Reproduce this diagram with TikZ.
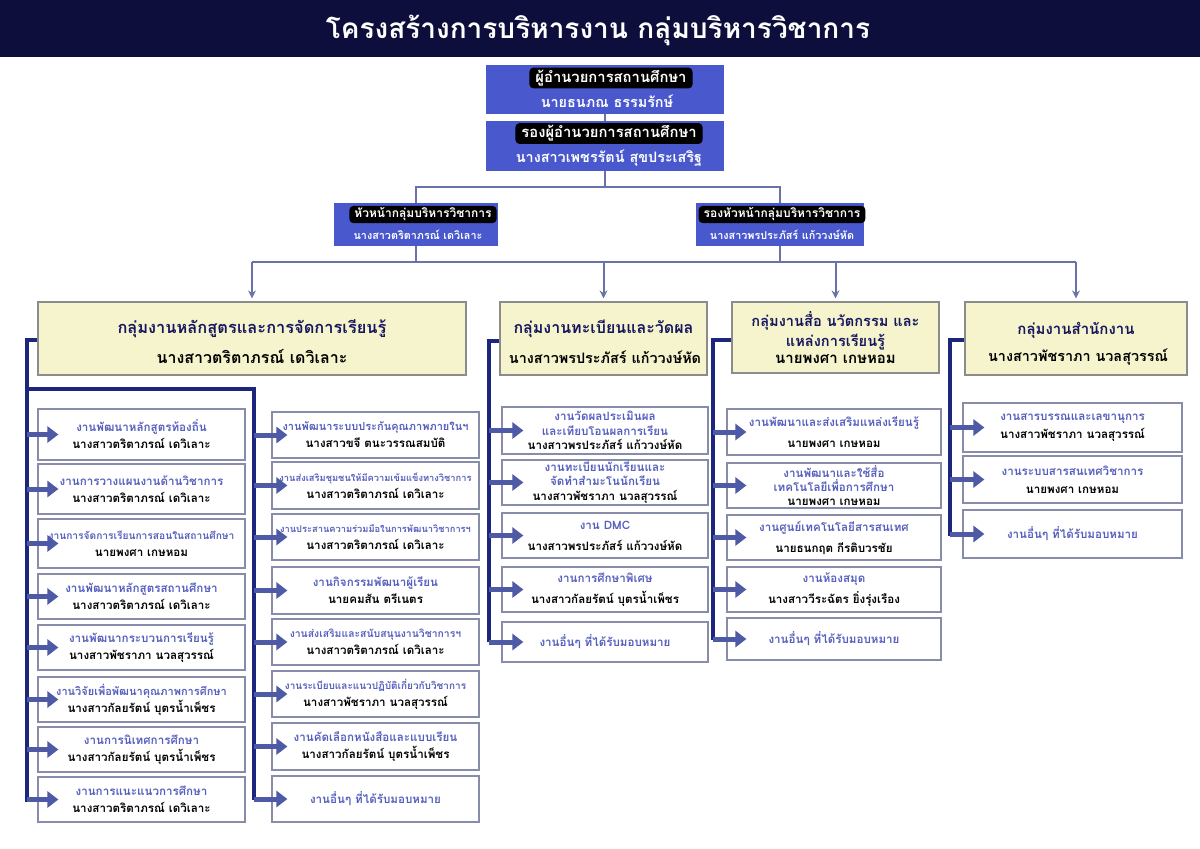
\documentclass[tikz,border=0pt]{standalone}
\usepackage{fontspec}
\setmainfont[Script=Thai]{Loma}
\usetikzlibrary{arrows.meta}
\definecolor{navy}{RGB}{14,14,60}
\definecolor{bossblue}{RGB}{74,88,205}
\definecolor{grpfill}{RGB}{246,244,204}
\definecolor{grpline}{RGB}{140,140,140}
\definecolor{grptext}{RGB}{22,22,95}
\definecolor{subline}{RGB}{135,140,170}
\definecolor{subtext}{RGB}{85,95,190}
\definecolor{busblue}{RGB}{28,38,125}
\definecolor{arrowblue}{RGB}{78,90,165}
\definecolor{connline}{RGB}{105,115,170}
\newcommand\subt[1]{\textcolor{subtext}{#1}}
\newcommand\fs[1]{\fontsize{#1}{8.5}\selectfont}
\tikzset{
  bossbox/.style={fill=bossblue, draw=none, inner sep=0pt},
  bosslabel/.style={fill=black, text=white, rounded corners=2pt, inner xsep=3pt, inner ysep=1.2pt, font=\fontsize{7.4}{9}\selectfont\bfseries},
  bossname/.style={text=white, inner sep=0pt, font=\fontsize{7.2}{9}\selectfont\bfseries},
  smalllabel/.style={fill=black, text=white, rounded corners=2pt, inner xsep=2.5pt, inner ysep=1pt, font=\fontsize{6}{7.5}\selectfont\bfseries},
  smallname/.style={text=white, inner sep=0pt, font=\fontsize{5.4}{7}\selectfont\bfseries},
  grpbox/.style={fill=grpfill, draw=grpline, line width=0.6pt, inner sep=0pt},
  grptitle/.style={text=grptext, inner sep=0pt, align=center, font=\fontsize{8}{10}\selectfont\bfseries},
  grpname/.style={text=black, inner sep=0pt, font=\fontsize{7.2}{9}\selectfont\bfseries},
  subbox/.style={fill=white, draw=subline, line width=0.6pt, inner sep=0pt, align=center, font=\fontsize{5.8}{8.5}\selectfont\bfseries},
  three/.style={font=\fontsize{5.8}{7.2}\selectfont\bfseries},
  conn/.style={draw=connline, line width=0.7pt},
  downarrow/.style={draw=connline, line width=1pt, -{Stealth[length=4pt,width=4pt]}, shorten >=1.5pt},
  bus/.style={draw=busblue, line width=2pt},
  blockarr/.style={draw=arrowblue, line width=2.5pt, -{Triangle[length=5.5pt,width=8pt]}},
}
\begin{document}
\begin{tikzpicture}[x=0.5pt,y=-0.5pt]
\useasboundingbox (0,0) rectangle (1200,848);
\fill[white] (0,0) rectangle (1200,848);
% title bar
\fill[navy] (0,0) rectangle (1200,57);
\node[text=white, font=\fontsize{14}{16}\selectfont\bfseries] (title) at (598,30) {โครงสร้างการบริหารงาน กลุ่มบริหารวิชาการ};

% director / deputy
\node[bossbox, minimum width=119pt, minimum height=24.5pt] (dir) at (605,89.5) {};
\node[bosslabel] (dirl) at (611,78) {ผู้อำนวยการสถานศึกษา};
\node[bossname] (dirn) at (607,101) {นายธนภณ ธรรมรักษ์};
\node[bossbox, minimum width=119pt, minimum height=25pt] (dep) at (605,146) {};
\node[bosslabel] (depl) at (609,133.5) {รองผู้อำนวยการสถานศึกษา};
\node[bossname] (depn) at (609,158.5) {นางสาวเพชรรัตน์ สุขประเสริฐ};

% second level
\node[bossbox, minimum width=82pt, minimum height=21.5pt] (ha) at (416,224.5) {};
\node[smalllabel] (hal) at (423,214.5) {หัวหน้ากลุ่มบริหารวิชาการ};
\node[smallname] (han) at (418,235) {นางสาวตริตาภรณ์ เดวิเลาะ};
\node[bossbox, minimum width=84pt, minimum height=21.5pt] (hb) at (780,224.5) {};
\node[smalllabel] (hbl) at (782,214.5) {รองหัวหน้ากลุ่มบริหารวิชาการ};
\node[smallname] (hbn) at (782,235) {นางสาวพรประภัสร์ แก้ววงษ์หัด};

% group boxes
\node[grpbox, minimum width=214pt, minimum height=36.5pt] (g1) at (252,338.5) {};
\node[grptitle, font=\fontsize{8.2}{10}\selectfont\bfseries] (g1t) at (252,329) {กลุ่มงานหลักสูตรและการจัดการเรียนรู้};
\node[grpname, font=\fontsize{8}{10}\selectfont\bfseries] (g1n) at (252,357) {นางสาวตริตาภรณ์ เดวิเลาะ};
\node[grpbox, minimum width=103.5pt, minimum height=36.5pt] (g2) at (603.5,338.5) {};
\node[grptitle] (g2t) at (603.5,329) {กลุ่มงานทะเบียนและวัดผล};
\node[grpname] (g2n) at (605,357) {นางสาวพรประภัสร์ แก้ววงษ์หัด};
\node[grpbox, minimum width=103.5pt, minimum height=35.5pt] (g3) at (835.5,337.5) {};
\node[grptitle, font=\fontsize{7.3}{10}\selectfont\bfseries] (g3t) at (835.5,330.5) {กลุ่มงานสื่อ นวัตกรรม และ\\แหล่งการเรียนรู้};
\node[grpname, font=\fontsize{7.5}{9}\selectfont\bfseries] (g3n) at (835.5,359) {นายพงศา เกษหอม};
\node[grpbox, minimum width=111pt, minimum height=36.5pt] (g4) at (1076,338.5) {};
\node[grptitle, font=\fontsize{7.5}{10}\selectfont\bfseries] (g4t) at (1076,330) {กลุ่มงานสำนักงาน};
\node[grpname] (g4n) at (1078,357) {นางสาวพัชราภา นวลสุวรรณ์};

% top connectors
\coordinate (h1) at (605,187);
\coordinate (h2) at (605,262);
\draw[conn] (dir.south) -- (dep.north);
\draw[conn] (dep.south) -- (h1);
\draw[conn] (ha.north) |- (h1) -| (hb.north);
\draw[conn] (ha.south) -- (ha.south |- h2);
\draw[conn] (hb.south) -- (hb.south |- h2);
\draw[conn] (g1.north |- h2) -- (g4.north |- h2);
\draw[downarrow] (g1.north |- h2) -- (g1.north);
\draw[downarrow] (g2.north |- h2) -- (g2.north);
\draw[downarrow] (g3.north |- h2) -- (g3.north);
\draw[downarrow] (g4.north |- h2) -- (g4.north);

% ---------- group 1, column 1 ----------
\node[subbox, minimum width=103.5pt, minimum height=25.5pt] (a1) at (141.5,434.5) {\subt{งานพัฒนาหลักสูตรท้องถิ่น}\\นางสาวตริตาภรณ์ เดวิเลาะ};
\node[subbox, minimum width=103.5pt, minimum height=25pt] (a2) at (141.5,489) {\subt{งานการวางแผนงานด้านวิชาการ}\\นางสาวตริตาภรณ์ เดวิเลาะ};
\node[subbox, minimum width=103.5pt, minimum height=24.5pt] (a3) at (141.5,543.5) {\subt{\fs{5.1}งานการจัดการเรียนการสอนในสถานศึกษา}\\นายพงศา เกษหอม};
\node[subbox, minimum width=103.5pt, minimum height=22.5pt] (a4) at (141.5,596.5) {\subt{งานพัฒนาหลักสูตรสถานศึกษา}\\นางสาวตริตาภรณ์ เดวิเลาะ};
\node[subbox, minimum width=103.5pt, minimum height=22.5pt] (a5) at (141.5,647.5) {\subt{งานพัฒนากระบวนการเรียนรู้}\\นางสาวพัชราภา นวลสุวรรณ์};
\node[subbox, minimum width=103.5pt, minimum height=22.5pt] (a6) at (141.5,699.5) {\subt{\fs{5.5}งานวิจัยเพื่อพัฒนาคุณภาพการศึกษา}\\นางสาวกัลยรัตน์ บุตรน้ำเพ็ชร};
\node[subbox, minimum width=103.5pt, minimum height=22.5pt] (a7) at (141.5,749.5) {\subt{งานการนิเทศการศึกษา}\\นางสาวกัลยรัตน์ บุตรน้ำเพ็ชร};
\node[subbox, minimum width=103.5pt, minimum height=22.5pt] (a8) at (141.5,799.5) {\subt{งานการแนะแนวการศึกษา}\\นางสาวตริตาภรณ์ เดวิเลาะ};

% ---------- group 1, column 2 ----------
\node[subbox, minimum width=103.5pt, minimum height=23pt] (c1) at (375.5,435) {\subt{\fs{5.5}งานพัฒนาระบบประกันคุณภาพภายในฯ}\\นางสาวขจี ตนะวรรณสมบัติ};
\node[subbox, minimum width=103.5pt, minimum height=23.5pt] (c2) at (375.5,485.5) {\subt{\fs{4.65}งานส่งเสริมชุมชนให้มีความเข้มแข็งทางวิชาการ}\\นางสาวตริตาภรณ์ เดวิเลาะ};
\node[subbox, minimum width=103.5pt, minimum height=23pt] (c3) at (375.5,537) {\subt{\fs{4.65}งานประสานความร่วมมือในการพัฒนาวิชาการฯ}\\นางสาวตริตาภรณ์ เดวิเลาะ};
\node[subbox, minimum width=103.5pt, minimum height=23.5pt] (c4) at (375.5,590.5) {\subt{งานกิจกรรมพัฒนาผู้เรียน}\\นายคมสัน ตรีเนตร};
\node[subbox, minimum width=103.5pt, minimum height=23pt] (c5) at (375.5,642) {\subt{\fs{5.2}งานส่งเสริมและสนับสนุนงานวิชาการฯ}\\นางสาวตริตาภรณ์ เดวิเลาะ};
\node[subbox, minimum width=103.5pt, minimum height=23pt] (c6) at (375.5,694) {\subt{\fs{5.0}งานระเบียบและแนวปฏิบัติเกี่ยวกับวิชาการ}\\นางสาวพัชราภา นวลสุวรรณ์};
\node[subbox, minimum width=103.5pt, minimum height=23.5pt] (c7) at (375.5,746.5) {\subt{งานคัดเลือกหนังสือและแบบเรียน}\\นางสาวกัลยรัตน์ บุตรน้ำเพ็ชร};
\node[subbox, minimum width=103.5pt, minimum height=23pt] (c8) at (375.5,799) {\subt{งานอื่นๆ ที่ได้รับมอบหมาย}};

% ---------- group 2 ----------
\node[subbox, three, minimum width=103pt, minimum height=23.5pt] (d1) at (605,430.5) {\subt{งานวัดผลประเมินผล}\\\subt{และเทียบโอนผลการเรียน}\\นางสาวพรประภัสร์ แก้ววงษ์หัด};
\node[subbox, three, minimum width=103pt, minimum height=22.5pt] (d2) at (605,482.5) {\subt{งานทะเบียนนักเรียนและ}\\\subt{จัดทำสำมะโนนักเรียน}\\นางสาวพัชราภา นวลสุวรรณ์};
\node[subbox, minimum width=103pt, minimum height=22.5pt] (d3) at (605,535.5) {\subt{งาน DMC}\\[2pt]นางสาวพรประภัสร์ แก้ววงษ์หัด};
\node[subbox, minimum width=103pt, minimum height=22.5pt] (d4) at (605,589.5) {\subt{งานการศึกษาพิเศษ}\\[2pt]นางสาวกัลยรัตน์ บุตรน้ำเพ็ชร};
\node[subbox, minimum width=103pt, minimum height=20pt] (d5) at (605,642) {\subt{งานอื่นๆ ที่ได้รับมอบหมาย}};

% ---------- group 3 ----------
\node[subbox, minimum width=107pt, minimum height=23pt] (e1) at (834,432) {\subt{งานพัฒนาและส่งเสริมแหล่งเรียนรู้}\\[2pt]นายพงศา เกษหอม};
\node[subbox, three, minimum width=107pt, minimum height=22.5pt] (e2) at (834,485.5) {\subt{งานพัฒนาและใช้สื่อ}\\\subt{เทคโนโลยีเพื่อการศึกษา}\\นายพงศา เกษหอม};
\node[subbox, minimum width=107pt, minimum height=22.5pt] (e3) at (834,537.5) {\subt{งานศูนย์เทคโนโลยีสารสนเทศ}\\[2pt]นายธนกฤต กีรติบวรชัย};
\node[subbox, minimum width=107pt, minimum height=22.5pt] (e4) at (834,589.5) {\subt{งานห้องสมุด}\\[2pt]นางสาววีระฉัตร ยิ่งรุ่งเรือง};
\node[subbox, minimum width=107pt, minimum height=21pt] (e5) at (834,639) {\subt{งานอื่นๆ ที่ได้รับมอบหมาย}};

% ---------- group 4 ----------
\node[subbox, minimum width=109.5pt, minimum height=24.5pt] (f1) at (1072.5,427.5) {\subt{งานสารบรรณและเลขานุการ}\\[0.5pt]นางสาวพัชราภา นวลสุวรรณ์};
\node[subbox, minimum width=109.5pt, minimum height=23.5pt] (f2) at (1072.5,479.5) {\subt{งานระบบสารสนเทศวิชาการ}\\[0.5pt]นายพงศา เกษหอม};
\node[subbox, minimum width=109.5pt, minimum height=24pt] (f3) at (1072.5,534) {\subt{งานอื่นๆ ที่ได้รับมอบหมาย}};

% ---------- buses ----------
\coordinate (b1e) at (27,802);
\coordinate (b2s) at (27,389);
\coordinate (b2e) at (254,800);
\coordinate (b3e) at (489,642);
\coordinate (b4e) at (713,640);
\coordinate (b5e) at (950,536);
\draw[bus] (g1.west |- 0,340) -| (b1e);
\draw[bus] (b2s) -| (b2e);
\draw[bus] (g2.west |- 0,341) -| (b3e);
\draw[bus] (g3.west |- 0,340) -| (b4e);
\draw[bus] (g4.west |- 0,340) -| (b5e);

% ---------- block arrows ----------
\foreach \n in {a1,a2,a3,a4,a5,a6,a7,a8}{
  \draw[blockarr] (b1e |- \n.west) -- ([xshift=10.5pt]\n.west);
}
\foreach \n in {c1,c2,c3,c4,c5,c6,c7,c8}{
  \draw[blockarr] (b2e |- \n.west) -- ([xshift=8pt]\n.west);
}
\foreach \n in {d1,d2,d3,d4,d5}{
  \draw[blockarr] (b3e |- \n.west) -- ([xshift=11pt]\n.west);
}
\foreach \n in {e1,e2,e3,e4,e5}{
  \draw[blockarr] (b4e |- \n.west) -- ([xshift=10pt]\n.west);
}
\foreach \n in {f1,f2,f3}{
  \draw[blockarr] (b5e |- \n.west) -- ([xshift=11pt]\n.west);
}
\end{tikzpicture}
\end{document}
